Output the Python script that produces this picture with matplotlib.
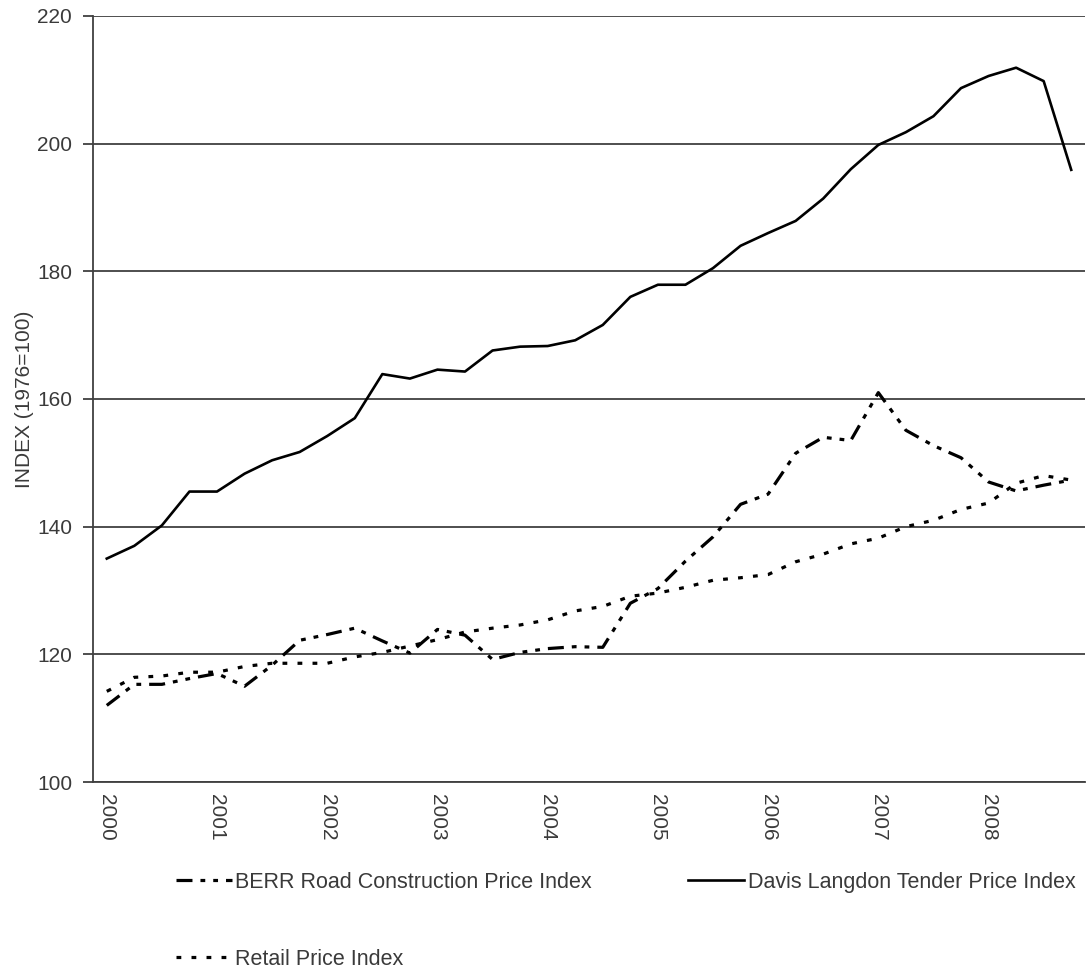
import matplotlib
matplotlib.use("Agg")
import matplotlib.pyplot as plt
import numpy as np

plt.rcParams['font.family'] = ['Liberation Sans', 'DejaVu Sans']

years = ['2000', '2001', '2002', '2003', '2004', '2005', '2006', '2007', '2008']

davis = [135, 137, 140.2, 145.5, 145.5, 148.3, 150.4, 151.7, 154.2, 157,
         163.9, 163.2, 164.6, 164.3, 167.6, 168.2, 168.3, 169.2, 171.6, 176,
         177.9, 177.9, 180.5, 184, 186, 187.9, 191.4, 196, 199.8, 201.8,
         204.3, 208.7, 210.6, 211.9, 209.8, 195.9]

berr = [112, 115.3, 115.3, 116.2, 117, 115, 118.3, 122.2, 123.1, 124.1,
        122.1, 120.2, 123.9, 123.0, 119.2, 120.3, 120.9, 121.2, 121.1, 128,
        130.3, 134.6, 138.4, 143.5, 145.1, 151.5, 154, 153.5, 161, 155.1,
        152.7, 150.8, 147, 145.6, 146.5, 147.3]

rpi = [114.2, 116.4, 116.6, 117.2, 117.2, 118.1, 118.6, 118.6, 118.6, 119.6,
       120.3, 121.3, 122.3, 123.5, 124.1, 124.6, 125.4, 126.8, 127.5, 129.1,
       129.6, 130.5, 131.6, 132, 132.5, 134.5, 135.7, 137.3, 138.2, 140,
       141, 142.7, 143.7, 146.8, 148, 147.3]

labels = ['BERR Road Construction Price Index', 'Davis Langdon Tender Price Index',
          'Retail Price Index']

txt = '#3a3a3a'
W, H = 1089, 974
fig = plt.figure(figsize=(W / 100, H / 100), dpi=100)
ax = fig.add_axes([93 / W, 1 - 782 / H, (1085 - 93) / W, (782 - 16) / H])

x = np.arange(len(davis))
l_berr, = ax.plot(x, berr, color='black', lw=2.3,
                  dashes=(5, 2.5, 1.5, 2.5, 1.5, 2.5))
l_davis, = ax.plot(x, davis, color='black', lw=1.9)
l_rpi, = ax.plot(x, rpi, color='black', lw=2.3, dashes=(1.5, 3.2))

ax.set_xlim(-0.5, len(davis) - 0.5)
ax.set_ylim(100, 220)
ax.set_yticks(np.arange(100, 221, 20))
ax.yaxis.grid(True, color='#404040', lw=1.3)
ax.set_axisbelow(True)
ax.set_xticks(np.arange(0, len(davis), 4))
ax.set_xticklabels(years, rotation=-90, color=txt, fontsize=15)
ax.tick_params(axis='x', length=0, pad=9)
ax.tick_params(axis='y', length=7, width=1.3, color='#404040', labelsize=15,
               labelcolor=txt, pad=8)
for s in ['top', 'right']:
    ax.spines[s].set_visible(False)
for s in ['left', 'bottom']:
    ax.spines[s].set_color('#404040')
    ax.spines[s].set_linewidth(1.3)
ax.set_ylabel('INDEX (1976=100)', fontsize=15, color=txt, labelpad=2)

leg = fig.legend([l_berr, l_rpi, l_davis], [labels[0], labels[2], labels[1]],
                 ncol=2, loc='upper left', bbox_to_anchor=(165 / W, 1 - 861 / H),
                 frameon=False, prop={'size': 15.5}, handlelength=2.6,
                 handletextpad=0.15, labelspacing=2.6, columnspacing=4.5,
                 borderpad=0)
for t in leg.get_texts():
    t.set_color(txt)

fig.savefig('out.png', dpi=100)
